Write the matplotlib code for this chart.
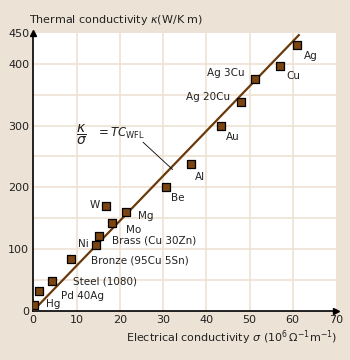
import numpy as np
import matplotlib.pyplot as plt

# metals: electrical conductivity (1e6 /ohm m) vs thermal conductivity (W/K m)
names = ['Hg', 'Pd 40Ag', 'Steel (1080)', 'Bronze (95Cu 5Sn)', 'Ni', 'Brass (Cu 30Zn)',
         'Mo', 'W', 'Mg', 'Be', 'Al', 'Au', 'Ag 20Cu', 'Ag 3Cu', 'Cu', 'Ag']
sigma = [0.2, 1.4, 4.4, 8.8, 14.5, 15.2, 18.1, 16.9, 21.5, 30.6, 36.5, 43.4, 48.0, 51.3, 57.0, 61.0]
kappa = [9, 32, 48, 83, 106, 121, 142, 170, 160, 200, 238, 300, 339, 375, 396, 430]

# label positions (data units) and alignment
lab_x = [2.9, 6.4, 9.1, 13.3, 12.9, 18.1, 21.4, 15.4, 24.2, 31.8, 37.3, 44.5, 45.6, 48.9, 58.6, 62.5]
lab_y = [11, 23, 48, 81, 108, 113, 131, 172, 154, 183, 216, 281, 346, 386, 381, 413]
lab_ha = ['left', 'left', 'left', 'left', 'right', 'left', 'left', 'right', 'left', 'left',
          'left', 'left', 'right', 'right', 'left', 'left']

# Wiedemann-Franz-Lorenz line
wfl_x = [0, 61.4]
wfl_y = [0, 446.7]

x_grid = [10, 20, 30, 40, 50, 60]
y_grid = [50, 100, 150, 200, 250, 300, 350, 400]

bg = '#ECE2D5'
brown = '#7A4510'
gridc = '#EEE2D2'

plt.rcParams['font.family'] = 'DejaVu Sans'
fig = plt.figure(figsize=(3.5, 3.6), dpi=100, facecolor=bg)
ax = fig.add_axes([0.095, 0.137, 0.865, 0.771])
ax.set_facecolor('white')

for g in x_grid:
    ax.axvline(g, color=gridc, lw=1.2, zorder=0)
for g in y_grid:
    ax.axhline(g, color=gridc, lw=1.2, zorder=0)

ax.plot(wfl_x, wfl_y, color='#6B3A0A', lw=1.6, zorder=3)
ax.scatter(sigma, kappa, marker='s', s=30, color=brown, edgecolors='black', linewidths=0.9, zorder=4)

for n, x, y, ha in zip(names, lab_x, lab_y, lab_ha):
    ax.text(x, y, n, ha=ha, va='center', fontsize=7.5, color='#222222')

ax.text(10.0, 285, r'$\dfrac{\kappa}{\sigma}$', ha='left', va='center',
        fontsize=10, color='#222222')
ax.text(14.6, 287, r'$= TC_{\mathrm{WFL}}$', ha='left', va='center',
        fontsize=8.5, color='#222222')
ax.plot([25.4, 32.2], [273, 229], color='black', lw=0.6, zorder=3)

ax.set_xlim(0, 70)
ax.set_ylim(0, 450)
ax.set_xticks([0, 10, 20, 30, 40, 50, 60, 70])
ax.set_yticks([0, 100, 200, 300, 400, 450])
ax.tick_params(which='both', length=0, labelsize=8, colors='#222222', pad=3)

for s in ['top', 'right']:
    ax.spines[s].set_visible(False)
for s in ['left', 'bottom']:
    ax.spines[s].set_color('black')
    ax.spines[s].set_linewidth(1.2)

# arrow heads on the axes
ax.plot(0, 450, marker='^', color='black', markersize=5, clip_on=False, zorder=5)
ax.plot(70, 0, marker='>', color='black', markersize=5, clip_on=False, zorder=5)

fig.text(0.083, 0.944, r'Thermal conductivity $\kappa$(W/K m)', ha='left', va='center',
         fontsize=8, color='#222222')
fig.text(0.965, 0.062, r'Electrical conductivity $\sigma$ ($10^6\,\Omega^{-1}$m$^{-1}$)',
         ha='right', va='center', fontsize=8, color='#222222')

fig.savefig('out.png', dpi=100, facecolor=bg)
